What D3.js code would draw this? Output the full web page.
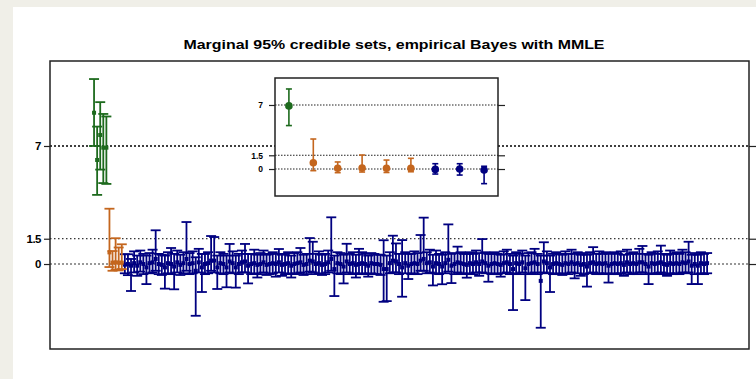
<!DOCTYPE html>
<html>
<head>
<meta charset="utf-8">
<script src="https://cdn.jsdelivr.net/npm/d3@7"></script>
<style>
  body { margin: 0; background: #f0efe8; }
  svg { display: block; font-family: "Liberation Sans", Arial, sans-serif; }
</style>
</head>
<body>
<div id="chart"></div>
<script>
const title = "Marginal 95% credible sets, empirical Bayes with MMLE";

// group sizes, in index order: large signals, small signals, zeros
const groupNames = ["large", "small", "zero"];
const groupSizes = [5, 5, 190];
const groupColors = { large: "#1d6a1d", small: "#c4661e", zero: "#000080" };

const yTicks = [0, 1.5, 7];
const yTickLabels = ["0", "1.5", "7"];

// posterior estimates and credible bounds, index 1..200
const est = [
  8.97, 6.17, 7.65, 6.9, 6.9, 0.69, 0.08, 0.1, 0.08, 0.08,
  -0.04, 0, -0.1, 0.05, -0.1, 0.1, 0.0, -0.2, 0.05, 0.1,
  0.3, 0.0, -0.05, -0.2, 0.05, 0.0, -0.15, 0.1, -0.05, 0.05,
  0.3, 0.0, 0.05, -0.4, 0.1, -0.2, 0.0, 0.05, 0.2, 0.2,
  -0.2, 0.05, 0.0, -0.2, 0.15, 0.05, -0.2, 0.0, 0.1, 0.15,
  -0.1, 0.0, 0.05, -0.05, 0.0, 0.1, -0.05, 0.0, 0.05, 0.0,
  0.1, -0.05, 0.0, 0.05, -0.1, 0.0, 0.05, 0.1, -0.05, 0.0,
  0.2, 0.15, 0.0, 0.05, -0.05, 0.0, 0.1, 0.3, -0.3, 0.05,
  0.0, -0.15, 0.15, 0.0, 0.05, -0.05, 0.0, 0.05, 0.0, -0.1,
  0.05, 0.0, 0.0, -0.05, -0.3, -0.3, 0.05, 0.2, 0.15, 0.0,
  -0.2, 0.05, -0.1, 0.0, 0.05, 0.0, 0.2, 0.3, 0.05, 0.1,
  -0.15, 0.05, 0.0, -0.15, 0.05, 0.25, -0.1, 0.0, 0.1, 0.05,
  0.0, -0.05, 0.05, 0.0, 0.1, 0.0, 0.15, 0.05, -0.1, 0.0,
  0.05, 0.0, -0.05, 0.05, 0.1, 0.0, -0.3, 0.05, 0.0, 0.1,
  -0.25, 0.0, 0.05, 0.1, 0.0, -1.0, 0.15, 0.05, -0.2, 0.0,
  0.05, 0.0, -0.05, 0.05, 0.0, 0.1, 0.0, 0.05, -0.05, 0.0,
  -0.15, 0.05, 0.1, 0.0, 0.05, 0.0, 0.05, -0.1, 0.0, 0.05,
  0.0, 0.05, -0.05, 0.1, 0.0, 0.05, 0.0, 0.1, 0.1, 0.0,
  -0.15, 0.05, 0.0, 0.05, 0.1, 0.0, -0.05, 0.05, 0.0, 0.05,
  0.0, 0.1, 0.05, 0.15, -0.1, 0.0, -0.1, 0.05, 0.0, 0.05
];
const lower = [
  7.0, 4.1, 5.6, 4.8, 4.75, -0.18, -0.4, -0.33, -0.38, -0.3,
  -0.55, -0.66, -1.6, -0.5, -0.7, -0.45, -0.6, -1.19, -0.55, -0.5,
  -0.4, -0.6, -0.65, -1.46, -0.55, -0.6, -1.5, -0.5, -0.65, -0.55,
  -0.4, -0.6, -0.55, -3.07, -0.5, -1.66, -0.6, -0.55, -0.4, -0.5,
  -1.48, -0.55, -0.6, -1.38, -0.5, -0.55, -1.4, -0.6, -0.5, -0.5,
  -1.15, -0.6, -0.55, -0.8, -0.6, -0.5, -0.65, -0.6, -0.55, -0.75,
  -0.5, -0.7, -0.6, -0.55, -0.8, -0.6, -0.55, -0.5, -0.65, -0.6,
  -0.45, -0.5, -0.6, -0.55, -0.65, -0.6, -0.5, -0.4, -1.9, -0.55,
  -0.6, -1.15, -0.5, -0.6, -0.55, -0.8, -0.6, -0.55, -0.6, -0.75,
  -0.55, -0.6, -0.6, -0.65, -2.24, -2.2, -0.55, -0.5, -0.5, -0.6,
  -1.94, -0.55, -0.89, -0.6, -0.55, -0.6, -0.4, -0.4, -0.55, -0.5,
  -1.27, -0.55, -0.6, -1.2, -0.55, -0.45, -1.13, -0.6, -0.5, -0.55,
  -0.6, -0.81, -0.55, -0.6, -0.5, -0.7, -0.5, -0.55, -1.05, -0.6,
  -0.55, -0.6, -0.75, -0.55, -0.5, -0.6, -2.73, -0.55, -0.6, -0.5,
  -2.14, -0.6, -0.55, -0.5, -0.6, -3.78, -0.5, -0.55, -1.66, -0.6,
  -0.55, -0.6, -0.65, -0.55, -0.6, -0.5, -0.85, -0.55, -0.7, -0.6,
  -1.34, -0.55, -0.5, -0.6, -0.55, -0.6, -0.55, -1.1, -0.6, -0.55,
  -0.6, -0.55, -0.7, -0.5, -0.6, -0.55, -0.6, -0.5, -0.5, -0.6,
  -1.19, -0.55, -0.6, -0.55, -0.5, -0.6, -0.7, -0.55, -0.6, -0.55,
  -0.6, -0.5, -0.55, -0.5, -1.19, -0.6, -1.19, -0.55, -0.6, -0.55
];
const upper = [
  10.97, 8.15, 9.6, 8.9, 8.75, 3.28, 0.77, 1.53, 0.98, 1.17,
  0.58, 0.58, 0.3, 0.75, 0.5, 0.8, 0.6, 0.5, 0.65, 0.85,
  2.0, 0.6, 0.55, 0.5, 0.7, 0.95, 0.6, 0.8, 0.55, 0.7,
  2.49, 0.65, 0.75, 0.4, 0.9, 0.6, 0.6, 0.7, 1.66, 1.6,
  0.5, 0.7, 0.6, 0.5, 1.19, 0.75, 0.5, 0.6, 0.8, 1.19,
  0.6, 0.6, 0.85, 0.55, 0.65, 0.8, 0.55, 0.6, 0.7, 0.6,
  0.89, 0.55, 0.6, 0.7, 0.5, 0.65, 0.7, 0.95, 0.55, 0.6,
  1.54, 1.32, 0.6, 0.75, 0.55, 0.6, 0.8, 2.77, 0.5, 0.7,
  0.65, 0.55, 1.2, 0.6, 0.7, 0.55, 0.9, 0.7, 0.6, 0.5,
  0.65, 0.6, 0.55, 0.55, 1.41, 0.5, 0.7, 1.68, 1.22, 0.6,
  1.42, 0.7, 0.6, 0.6, 0.75, 0.65, 1.72, 2.75, 0.7, 0.85,
  0.55, 0.8, 0.6, 0.55, 0.7, 2.35, 0.6, 0.65, 1.03, 0.7,
  0.6, 0.6, 0.7, 0.6, 0.8, 0.65, 1.48, 0.7, 0.6, 0.6,
  0.7, 0.6, 0.55, 0.75, 0.85, 0.6, 0.5, 0.7, 0.6, 0.8,
  0.5, 0.65, 0.7, 0.9, 0.6, 0.5, 1.29, 0.75, 0.5, 0.6,
  0.7, 0.6, 0.55, 0.75, 0.6, 0.85, 0.6, 0.7, 0.55, 0.65,
  0.55, 0.7, 1.0, 0.6, 0.75, 0.6, 0.7, 0.6, 0.65, 0.7,
  0.6, 0.75, 0.55, 0.85, 0.6, 0.7, 0.6, 0.9, 1.07, 0.6,
  0.55, 0.7, 0.6, 0.75, 1.09, 0.6, 0.55, 0.8, 0.6, 0.7,
  0.6, 0.85, 0.7, 1.32, 0.55, 0.65, 0.55, 0.7, 0.6, 0.65
];

// indices shown enlarged in the inset
const insetIndex = [5, 6, 7, 8, 9, 10, 11, 12, 13];

const width = 756, height = 379;
const margin = { top: 61, right: 7, bottom: 30, left: 50 };

const groupOf = [];
groupNames.forEach((g, k) => { for (let j = 0; j < groupSizes[k]; j++) groupOf.push(g); });
const data = est.map((e, i) => ({ i: i + 1, est: e, lo: lower[i], hi: upper[i], group: groupOf[i] }));

const svg = d3.select("#chart").append("svg")
  .attr("width", width)
  .attr("height", height);

svg.append("rect")
  .attr("x", 13).attr("y", 7)
  .attr("width", width - 13).attr("height", height - 7)
  .attr("fill", "#fff");

svg.append("text")
  .attr("x", 394).attr("y", 49)
  .attr("text-anchor", "middle")
  .attr("font-size", 13).attr("font-weight", "bold")
  .attr("textLength", 421).attr("lengthAdjust", "spacingAndGlyphs")
  .text(title);

const x = d3.scaleLinear()
  .domain([-13.3, 213.6])
  .range([margin.left, width - margin.right]);

const y = d3.scaleLinear()
  .domain([-5.04, 12.04])
  .range([height - margin.bottom, margin.top]);

function gridStyle(sel, v) {
  if (v === 7) sel.attr("stroke", "#000").attr("stroke-width", 1.4).attr("stroke-dasharray", "2,2");
  else if (v === 0) sel.attr("stroke", "#777").attr("stroke-width", 1.4).attr("stroke-dasharray", "2,2");
  else sel.attr("stroke", "#000").attr("stroke-width", 1).attr("stroke-dasharray", "1.5,2.5");
}

// main gridlines
svg.append("g").selectAll("line")
  .data(yTicks)
  .join("line")
  .attr("x1", x.range()[0]).attr("x2", x.range()[1])
  .attr("y1", d => y(d)).attr("y2", d => y(d))
  .each(function (d) { gridStyle(d3.select(this), d); });

// main axes
const fmt = d => yTickLabels[yTicks.indexOf(d)];
const leftAxis = svg.append("g")
  .attr("transform", `translate(${margin.left},0)`)
  .call(d3.axisLeft(y).tickValues(yTicks).tickFormat(fmt).tickSize(6).tickPadding(3));
const rightAxis = svg.append("g")
  .attr("transform", `translate(${width - margin.right},0)`)
  .call(d3.axisRight(y).tickValues(yTicks).tickFormat("").tickSize(7));
[leftAxis, rightAxis].forEach(a => {
  a.select(".domain").remove();
  a.selectAll("line").attr("stroke", "#222").attr("stroke-width", 1.2);
});
leftAxis.selectAll("text")
  .attr("font-size", 11.5).attr("font-weight", "bold").attr("fill", "#000")
  .attr("font-family", "Liberation Sans, Arial, sans-serif")
  .attr("letter-spacing", "-0.5px");

svg.append("rect")
  .attr("x", x.range()[0]).attr("y", y.range()[1])
  .attr("width", x.range()[1] - x.range()[0])
  .attr("height", y.range()[0] - y.range()[1])
  .attr("fill", "none").attr("stroke", "#222").attr("stroke-width", 1.5);

function drawBars(g, d, xs, ys, cap, sw) {
  const pts = g.selectAll("g.pt")
    .data(d)
    .join("g").attr("class", "pt")
    .attr("stroke", p => groupColors[p.group])
    .attr("fill", p => groupColors[p.group])
    .attr("stroke-width", sw);
  pts.append("line")
    .attr("x1", p => xs(p.i)).attr("x2", p => xs(p.i))
    .attr("y1", p => ys(p.lo)).attr("y2", p => ys(p.hi));
  pts.append("line")
    .attr("x1", p => xs(p.i) - cap).attr("x2", p => xs(p.i) + cap)
    .attr("y1", p => ys(p.hi)).attr("y2", p => ys(p.hi));
  pts.append("line")
    .attr("x1", p => xs(p.i) - cap).attr("x2", p => xs(p.i) + cap)
    .attr("y1", p => ys(p.lo)).attr("y2", p => ys(p.lo));
  return pts;
}

// main error bars, zeros first so signals sit on top
const order = ["zero", "small", "large"];
const mainG = svg.append("g");
const mainPts = drawBars(mainG, order.flatMap(g => data.filter(p => p.group === g)), x, y, 5, 1.8);
mainPts.append("rect")
  .attr("x", p => x(p.i) - 2).attr("y", p => y(p.est) - 2)
  .attr("width", 4).attr("height", 4)
  .attr("stroke", "none");

// inset
const inset = { x0: 275, x1: 498, y0: 78, y1: 196 };
const xi = d3.scaleLinear().domain([4.43, 13.57]).range([inset.x0, inset.x1]);
const yi = d3.scaleLinear().domain([-2.95, 9.95]).range([inset.y1, inset.y0]);

svg.append("rect")
  .attr("x", inset.x0).attr("y", inset.y0)
  .attr("width", inset.x1 - inset.x0).attr("height", inset.y1 - inset.y0)
  .attr("fill", "#fff");

svg.append("g").selectAll("line")
  .data(yTicks)
  .join("line")
  .attr("x1", inset.x0).attr("x2", inset.x1)
  .attr("y1", d => yi(d)).attr("y2", d => yi(d))
  .attr("stroke", "#222").attr("stroke-width", 1.1).attr("stroke-dasharray", "1.5,1.5");

const insetLeft = svg.append("g")
  .attr("transform", `translate(${inset.x0},0)`)
  .call(d3.axisLeft(yi).tickValues(yTicks).tickFormat(fmt).tickSize(6).tickPadding(6));
const insetRight = svg.append("g")
  .attr("transform", `translate(${inset.x1},0)`)
  .call(d3.axisRight(yi).tickValues(yTicks).tickFormat("").tickSize(7));
[insetLeft, insetRight].forEach(a => {
  a.select(".domain").remove();
  a.selectAll("line").attr("stroke", "#222").attr("stroke-width", 1.2);
});
insetLeft.selectAll("text")
  .attr("font-size", 8.5).attr("font-weight", "bold").attr("fill", "#000")
  .attr("font-family", "Liberation Sans, Arial, sans-serif");

const insetPts = drawBars(svg.append("g"), data.filter(p => insetIndex.includes(p.i)), xi, yi, 3, 1.6);
insetPts.append("circle")
  .attr("cx", p => xi(p.i)).attr("cy", p => yi(p.est))
  .attr("r", 3.8).attr("stroke", "none");

svg.append("rect")
  .attr("x", inset.x0).attr("y", inset.y0)
  .attr("width", inset.x1 - inset.x0).attr("height", inset.y1 - inset.y0)
  .attr("fill", "none").attr("stroke", "#222").attr("stroke-width", 1.5);
</script>
</body>
</html>
